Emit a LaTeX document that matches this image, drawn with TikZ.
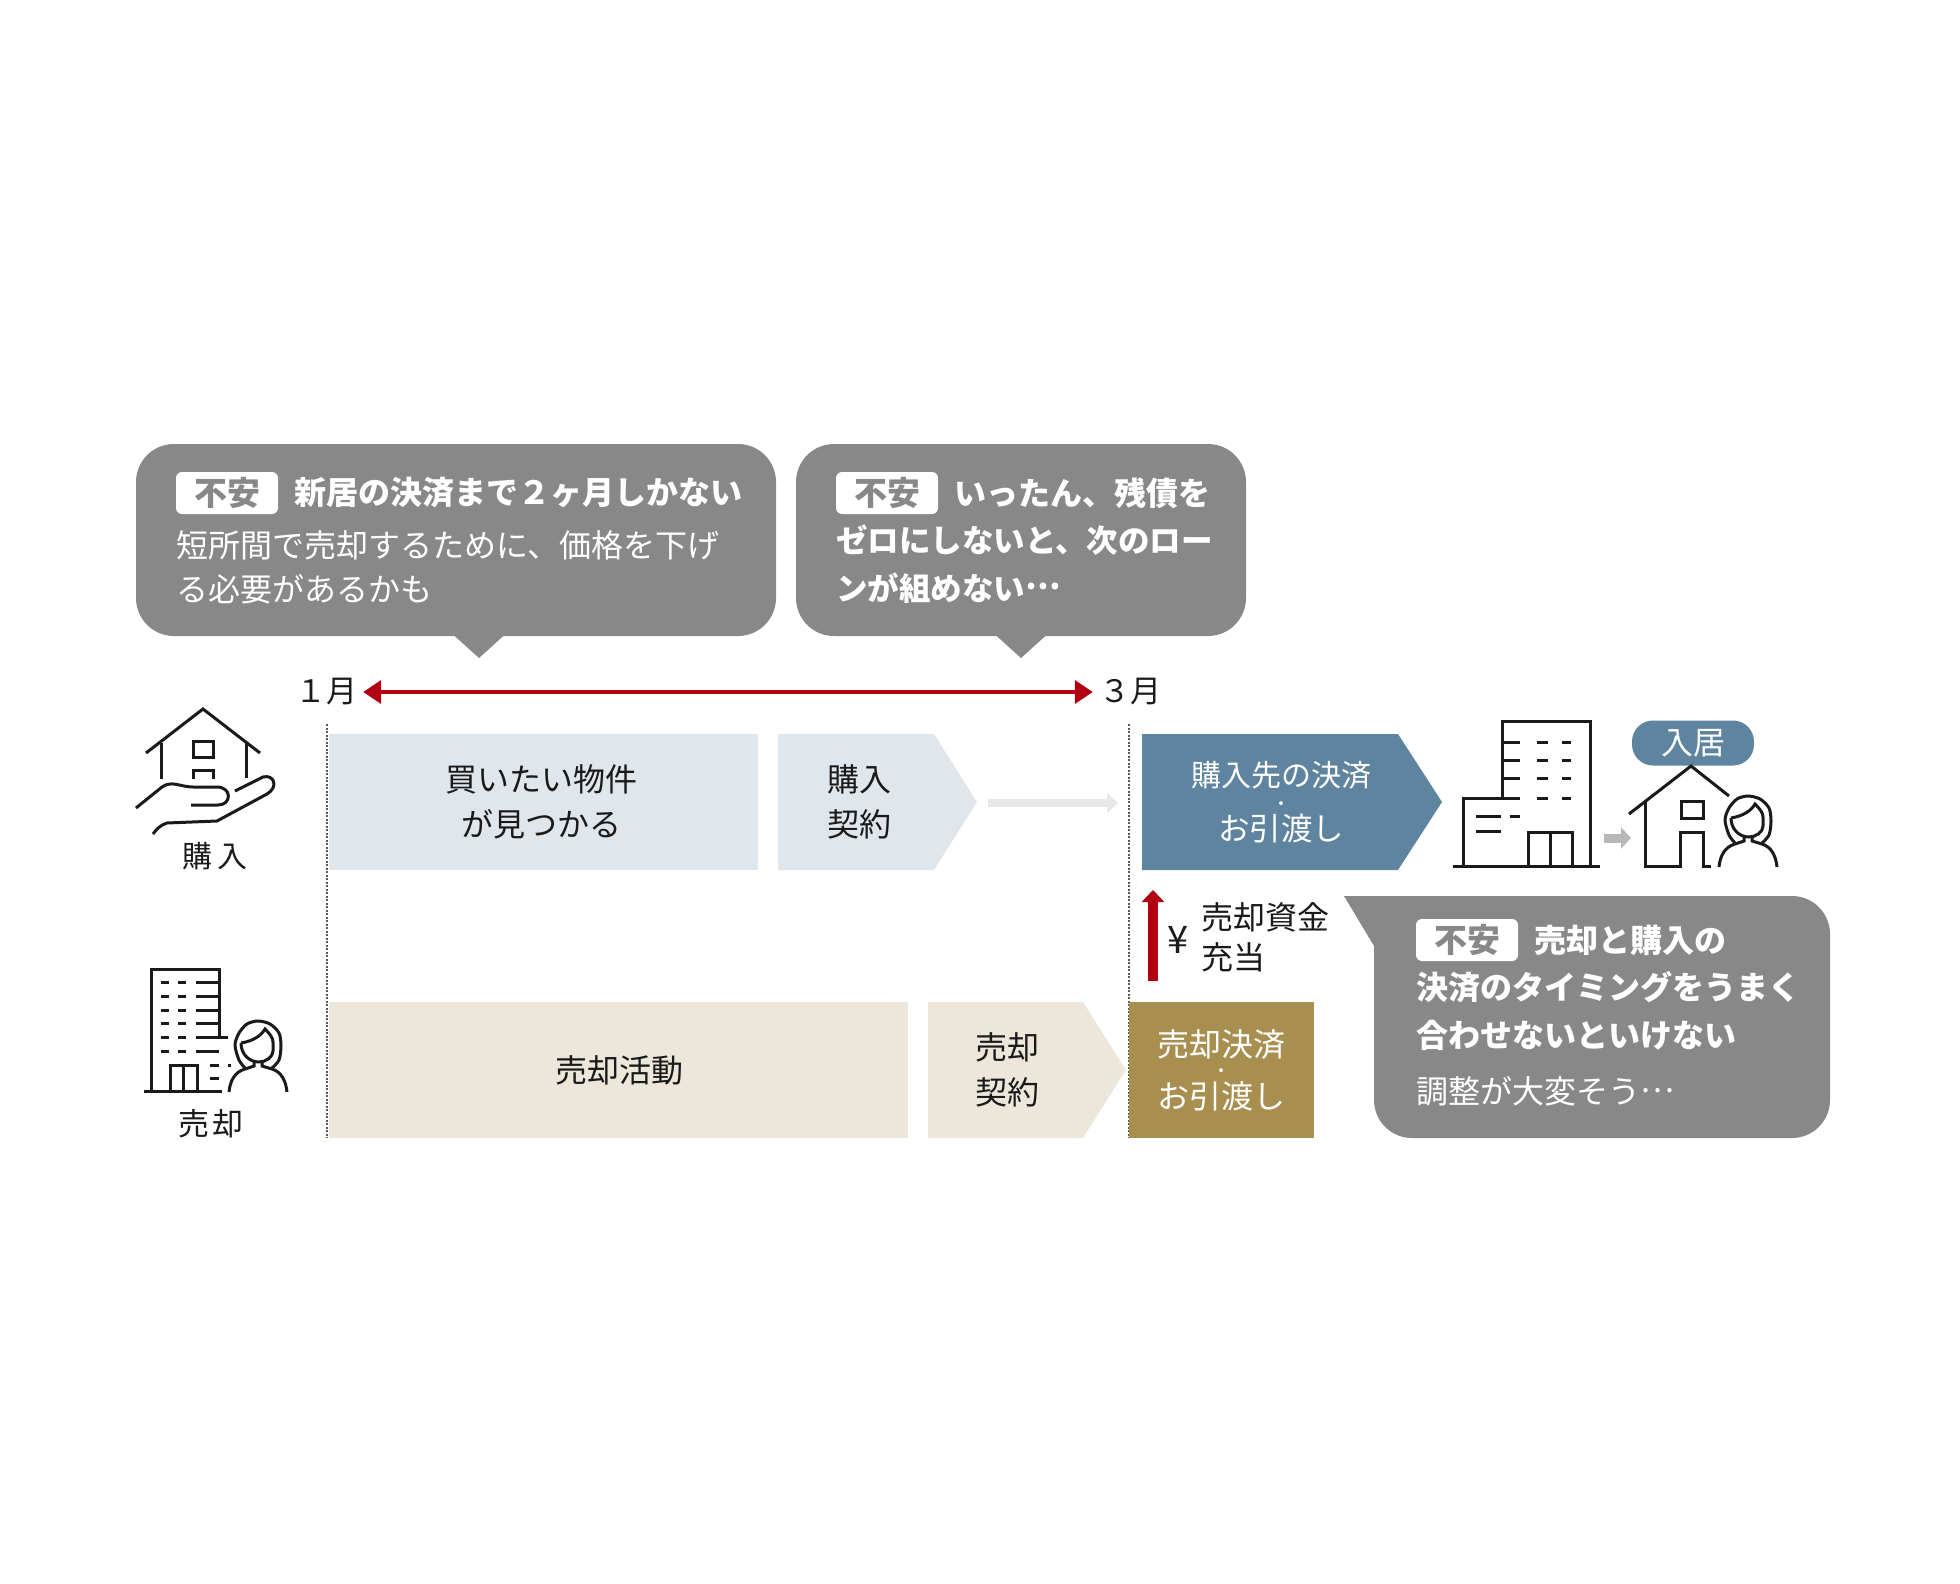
\documentclass[tikz,border=0pt]{standalone}
\usepackage{fontspec}
\setmainfont{Noto Sans CJK JP}
\usetikzlibrary{arrows.meta}
\newcommand{\midellipsis}{\raisebox{0.33em}{…}}
\definecolor{bubblegray}{HTML}{888888}
\definecolor{buypale}{HTML}{DFE6EC}
\definecolor{sellpale}{HTML}{EDE7DB}
\definecolor{buyblue}{HTML}{5F84A0}
\definecolor{sellgold}{HTML}{A88F50}
\definecolor{periodred}{HTML}{B00012}
\definecolor{inkblack}{HTML}{1A1A1A}
\tikzset{
    bubble/.style={fill=bubblegray, rounded corners=38pt, inner sep=0pt},
    worrytag/.style={fill=white, rounded corners=6pt, text=bubblegray, inner sep=0pt, minimum width=102pt, minimum height=42pt, font=\fontsize{33}{36}\selectfont\bfseries},
    worryhead/.style={anchor=west, align=left, inner sep=0pt, text=white, font=\fontsize{32}{48}\selectfont\bfseries},
    worrybody/.style={anchor=west, align=left, inner sep=0pt, text=white, font=\fontsize{32}{44}\selectfont},
    label/.style={align=center, inner sep=0pt, text=inkblack, font=\fontsize{32}{45}\selectfont},
    whitelabel/.style={align=center, inner sep=0pt, text=white, font=\fontsize{30}{54}\selectfont},
    dotlabel/.style={inner sep=0pt, text=white, font=\fontsize{18}{18}\selectfont},
    sidelabel/.style={inner sep=0pt, text=inkblack, font=\fontsize{30}{36}\selectfont},
    datelabel/.style={inner sep=6pt, text=inkblack, font=\fontsize{31}{36}\selectfont},
    icon/.style={draw=inkblack, line width=3pt},
    dotline/.style={draw=black!65, line width=1.5pt, dash pattern=on 2pt off 1.5pt},
    woman/.pic={
        \draw[icon] plot[smooth] coordinates {(-13,-24) (-19,-32) (-23,-47) (-19,-59) (-11,-68) (0,-71) (12,-68) (21,-59) (23,-46) (21,-32) (14,-24)};
        \draw[icon] (-17,-49) .. controls (-5,-51) and (3,-56) .. (7,-63) .. controls (12,-58) and (15,-54) .. (15,-50) -- (15,-41) .. controls (15,-35) and (8,-30) .. (1,-30) .. controls (-9,-30) and (-17,-38) .. (-17,-49);
        \draw[icon] (-4,-30) -- (-4,-26) -- (-13,-23) .. controls (-24,-20) and (-28,-10) .. (-29,0);
        \draw[icon] (4,-30) -- (4,-26) -- (14,-23) .. controls (24,-20) and (28,-10) .. (29,0);
    },
}
\begin{document}
\begin{tikzpicture}[x=1pt, y=-1pt]
    \useasboundingbox (0,0) rectangle (1960,1584);

    \node(worry1)[bubble, minimum width=640pt, minimum height=192pt] at (456,540) {};
    \fill[bubblegray] (448,630) -- (479,658) -- (510,630) -- cycle;
    \node(tag1)[worrytag] at (227,493) {不安};
    \node(head1)[worryhead] at (294,493) {新居の決済まで２ヶ月しかない};
    \node(body1)[worrybody] at (176,567) {短所間で売却するために、価格を下げ\\る必要があるかも};

    \node(worry2)[bubble, minimum width=450pt, minimum height=192pt] at (1021,540) {};
    \fill[bubblegray] (990,630) -- (1021,658) -- (1052,630) -- cycle;
    \node(tag2)[worrytag] at (887,493) {不安};
    \node(head2)[worryhead] at (954,493) {いったん、残債を};
    \node(body2)[worryhead, font=\fontsize{31.5}{48}\selectfont\bfseries] at (836,564) {ゼロにしないと、次のロー\\ンが組めない\midellipsis};

    \node(jan)[datelabel] at (326,692) {１月};
    \node(mar)[datelabel] at (1130,692) {３月};
    \draw[periodred, line width=4pt, {Triangle[length=18pt,width=23pt]}-{Triangle[length=18pt,width=23pt]}] (jan) -- (mar);

    \coordinate(jantop) at (327,724);
    \coordinate(janend) at (327,1138);
    \coordinate(martop) at (1129,724);
    \coordinate(marend) at (1129,1138);
    \draw[dotline] (jantop) -- (janend);
    \draw[dotline] (martop) -- (marend);

    \fill[buypale] (329,734) rectangle (758,870);
    \node(find)[label] at (541,802) {買いたい物件\\が見つかる};
    \fill[buypale] (778,734) -- (934,734) -- (977,802) -- (934,870) -- (778,870) -- cycle;
    \node(buycontract)[label] at (859,802) {購入\\契約};
    \coordinate(waitfrom) at (988,803);
    \coordinate(waitto) at (1118,803);
    \draw[black!9, line width=8pt, -{Triangle[length=11pt,width=20pt]}] (waitfrom) -- (waitto);
    \fill[buyblue] (1142,734) -- (1398,734) -- (1442,802) -- (1398,870) -- (1142,870) -- cycle;
    \node(buysettle)[whitelabel] at (1281,802) {購入先の決済\\{\fontsize{31.5}{54}\selectfont お引渡し}};
    \node(buydot)[dotlabel] at (1281,806) {・};

    \fill[sellpale] (329,1002) rectangle (908,1138);
    \node(sellwork)[label] at (619,1070) {売却活動};
    \fill[sellpale] (928,1002) -- (1083,1002) -- (1126,1070) -- (1083,1138) -- (928,1138) -- cycle;
    \node(sellcontract)[label] at (1007,1070) {売却\\契約};
    \fill[sellgold] (1129,1002) rectangle (1314,1138);
    \node(sellsettle)[whitelabel, font=\fontsize{32}{52}\selectfont] at (1221,1070) {売却決済\\お引渡し};
    \node(selldot)[dotlabel] at (1221,1073) {・};

    \coordinate(fundfrom) at (1153,981);
    \coordinate(fundto) at (1153,890);
    \draw[periodred, line width=10pt, -{Triangle[length=12pt,width=22pt]}] (fundfrom) -- (fundto);
    \node(yen)[sidelabel, font=\fontsize{38}{40}\selectfont] at (1178,940) {¥};
    \node(fund)[label, align=left, anchor=west, font=\fontsize{32}{40}\selectfont] at (1201,937) {売却資金\\充当};

    \node(worry3)[bubble, minimum width=456pt, minimum height=242pt] at (1602,1017) {};
    \fill[bubblegray] (1344,896) -- (1374,946) -- (1420,896) -- cycle;
    \node(tag3)[worrytag] at (1467,940) {不安};
    \node(head3)[worryhead] at (1534,940) {売却と購入の};
    \node(body3)[worryhead] at (1416,1011) {決済のタイミングをうまく\\合わせないといけない};
    \node(note3)[worrybody] at (1416,1091) {調整が大変そう\midellipsis};

    \node(buylabel)[sidelabel] at (215,856) {購\hspace{5pt}入};
    \draw[icon] (146,753) -- (203,709) -- (260,753);
    \draw[icon] (161,743) -- (161,779);
    \draw[icon] (246,743) -- (246,778);
    \draw[icon] (193,741) rectangle (213,757);
    \draw[icon] (193,779) -- (193,770) -- (213,770) -- (213,779);
    \draw[icon] (136,808) -- (162,787) .. controls (172,780) and (180,787) .. (193,787) -- (217,787) .. controls (232,787) and (232,805) .. (218,805) -- (191,805);
    \draw[icon] (235,791) -- (263,777) .. controls (274,774) and (279,787) .. (267,794) -- (217,821) -- (167,823) .. controls (160,825) and (156,830) .. (153,834);

    \node(selllabel)[sidelabel, font=\fontsize{31}{36}\selectfont] at (211,1124) {売\hspace{3pt}却};
    \draw[icon] (151,1091) -- (151,969) -- (219,969) -- (219,1037);
    \draw[icon] (144,1091) -- (222,1091);
    \foreach \row in {982,996,1010,1023,1037,1051} {
        \draw[icon] (161,\row) -- (169,\row);
        \draw[icon] (178,\row) -- (186,\row);
        \draw[icon] (196,\row) -- (219,\row);
    }
    \draw[icon] (219,1037) -- (228,1037);
    \draw[icon] (210,1065) -- (219,1065);
    \draw[icon] (228,1065) -- (231,1065);
    \draw[icon] (210,1078) -- (219,1078);
    \draw[icon] (170,1091) -- (170,1065) -- (197,1065) -- (197,1091);
    \draw[icon] (183,1065) -- (183,1091);
    \pic at (258,1092) {woman};

    \draw[icon] (1502,797) -- (1502,721) -- (1590,721) -- (1590,866);
    \draw[icon] (1463,866) -- (1463,798) -- (1520,798);
    \draw[icon] (1453,866) -- (1600,866);
    \foreach \row in {742,760,778} {
        \draw[icon] (1502,\row) -- (1520,\row);
    }
    \foreach \row in {742,760,778,798} {
        \draw[icon] (1537,\row) -- (1548,\row);
        \draw[icon] (1562,\row) -- (1571,\row);
    }
    \draw[icon] (1476,816) -- (1501,816);
    \draw[icon] (1510,816) -- (1520,816);
    \draw[icon] (1476,831) -- (1501,831);
    \draw[icon] (1528,866) -- (1528,832) -- (1572,832) -- (1572,866);
    \draw[icon] (1550,832) -- (1550,866);

    \coordinate(movefrom) at (1604,838);
    \coordinate(moveto) at (1631,838);
    \draw[black!28, line width=9pt, -{Triangle[length=10pt,width=21pt]}] (movefrom) -- (moveto);

    \node(movein)[fill=buyblue, rounded corners=21pt, inner sep=0pt, minimum width=122pt, minimum height=45pt, text=white, font=\fontsize{32}{36}\selectfont] at (1693,743) {入居};
    \draw[icon] (1629,814) -- (1691,766) -- (1729,796);
    \draw[icon] (1645,802) -- (1645,866) -- (1680,866) -- (1680,832) -- (1703,832) -- (1703,866) -- (1711,866);
    \draw[icon] (1681,801) rectangle (1703,818);
    \pic at (1748,867) {woman};
\end{tikzpicture}
\end{document}
